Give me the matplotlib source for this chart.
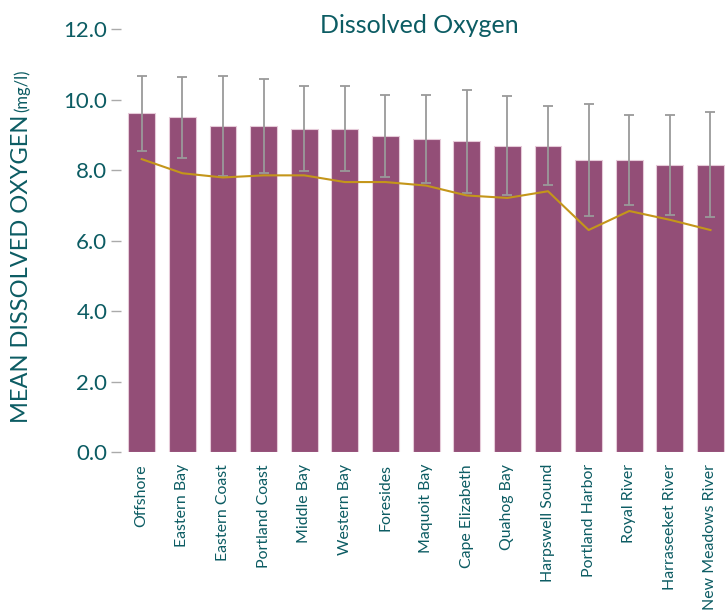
import numpy as np
import matplotlib
matplotlib.use("Agg")
import matplotlib.pyplot as plt

plt.rcParams['font.family'] = ['Lato', 'DejaVu Sans']

# Datos
sitios = ['Offshore', 'Eastern Bay', 'Eastern Coast', 'Portland Coast', 'Middle Bay',
          'Western Bay', 'Foresides', 'Maquoit Bay', 'Cape Elizabeth', 'Quahog Bay',
          'Harpswell Sound', 'Portland Harbor', 'Royal River', 'Harraseeket River',
          'New Meadows River']
media = [9.61, 9.50, 9.25, 9.25, 9.17, 9.17, 8.96, 8.89, 8.82, 8.69, 8.69, 8.28, 8.28, 8.15, 8.15]
desv = [1.07, 1.15, 1.42, 1.32, 1.20, 1.21, 1.17, 1.25, 1.46, 1.40, 1.12, 1.59, 1.27, 1.41, 1.49]
linea = [8.31, 7.91, 7.79, 7.85, 7.85, 7.66, 7.66, 7.56, 7.28, 7.21, 7.40, 6.30, 6.84, 6.59, 6.30]

teal = '#0C5C63'
morado = '#934E77'
oro = '#C4961A'

fig = plt.figure(figsize=(7.25, 6.15), dpi=100)
ax = fig.add_axes([0.1675, 0.2646, 0.8405, 0.6883])

x = np.arange(len(sitios))
ax.bar(x, media, width=0.66, color=morado, edgecolor='#e6cbd9', linewidth=0.8, zorder=2)
ax.errorbar(x, media, yerr=desv, fmt='none', ecolor='#9a9a9a', elinewidth=1.3,
            capsize=3.5, capthick=1.3, zorder=3)
ax.plot(x, linea, color=oro, linewidth=1.5, zorder=4)

ax.set_xlim(-0.5, len(sitios) - 0.5)
ax.set_ylim(0, 12)
ax.set_yticks(np.arange(0, 12.1, 2))
ax.set_yticklabels([f'{v:.1f}' for v in np.arange(0, 12.1, 2)])
ax.set_xticks(x)
ax.set_xticklabels(sitios, rotation=90, va='top', ha='center')

for s in ax.spines.values():
    s.set_visible(False)
ax.tick_params(axis='y', direction='out', length=7.2, width=1, color='#aaaaaa',
               pad=3, labelsize=16, labelcolor=teal)
ax.tick_params(axis='x', length=0, pad=8.5, labelsize=11.4, labelcolor=teal)

fig.text(0.579, 0.959, 'Dissolved Oxygen', ha='center', va='center', fontsize=18, color=teal)
fig.text(0.030, 1 - 423 / 615, 'MEAN DISSOLVED OXYGEN', rotation=90, ha='center', va='bottom',
         fontsize=17, color=teal)
fig.text(0.030, 1 - 112 / 615, '(mg/l)', rotation=90, ha='center', va='bottom',
         fontsize=12, color=teal)

fig.savefig('out.png', dpi=100)
